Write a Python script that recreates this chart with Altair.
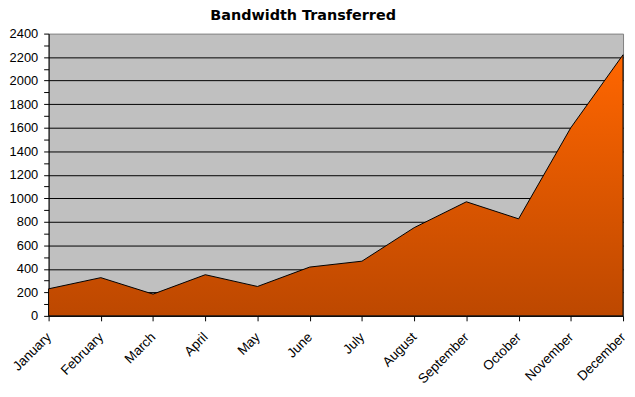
import altair as alt
import pandas as pd

months = ["January", "February", "March", "April", "May", "June",
          "July", "August", "September", "October", "November", "December"]
bandwidth = [230, 325, 185, 350, 250, 415, 465, 750, 970, 825, 1600, 2220]
y_ticks = list(range(0, 2401, 100))

df = pd.DataFrame({"month": months, "value": bandwidth})

grid_test = "datum.value % 200 == 0 && datum.value > 0 && datum.value < 2400"

chart = alt.Chart(df).mark_area(
    color=alt.Gradient(
        gradient="linear",
        stops=[alt.GradientStop(color="#FF6600", offset=0),
               alt.GradientStop(color="#BD4800", offset=1)],
        x1=0, x2=0, y1=0, y2=1,
    ),
    stroke="black",
    strokeWidth=1,
    opacity=1,
).encode(
    x=alt.X("month:N", sort=months, title=None,
            scale=alt.Scale(type="point", padding=0),
            axis=alt.Axis(labelAngle=-45, labelAlign="right", labelBaseline="middle",
                          labelFont="Liberation Sans", labelFontSize=13.5, labelColor="black",
                          labelPadding=14, tickSize=5, tickColor="black",
                          domainColor="black", grid=False)),
    y=alt.Y("value:Q", title=None,
            scale=alt.Scale(domain=[0, 2400], nice=False),
            axis=alt.Axis(values=y_ticks,
                          labelExpr="datum.value % 200 == 0 ? datum.label : ''",
                          format="d",
                          labelFont="Liberation Sans", labelFontSize=13, labelColor="black",
                          labelPadding=6, tickSize=5, tickColor="black",
                          domainColor="black",
                          grid=True, gridColor="black", gridWidth=1,
                          gridOpacity={"condition": {"test": grid_test, "value": 1}, "value": 0})),
).properties(
    width=580,
    height=285,
    title=alt.TitleParams("Bandwidth Transferred", font="DejaVu Sans", fontSize=14.5,
                          fontWeight="bold", color="black", anchor="middle", dx=-33,
                          offset=4),
    autosize=alt.AutoSizeParams(type="none"),
    padding={"left": 41, "top": 24, "right": 4, "bottom": 74},
    background="white",
).configure_view(
    fill="#C0C0C0", stroke="#808080", strokeWidth=1
)

chart.save("out.html", embed_options={"renderer": "svg", "actions": False})
